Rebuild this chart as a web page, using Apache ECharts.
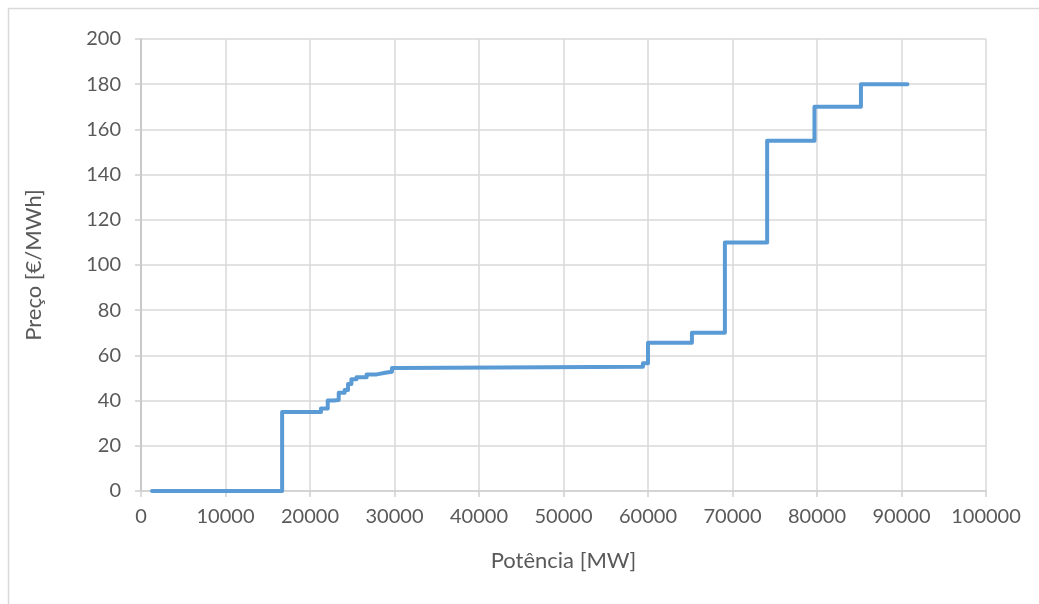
<!DOCTYPE html>
<html>
<head>
<meta charset="utf-8">
<script src="https://cdn.jsdelivr.net/npm/echarts@6/dist/echarts.min.js"></script>
<style>html,body{margin:0;padding:0;background:#fff}#c{width:1039px;height:604px}</style>
</head>
<body>
<div id="c"></div>
<script>
// Step points: power [MW] where each price level starts, and the price [€/MWh]
const power = [1300, 16700, 21300, 22100, 22800, 23400, 24100, 24500, 24900, 25500, 26700, 27900, 28900, 29700, 30600, 59400, 60000, 65200, 69100, 74100, 79700, 85200, 90700];
const price = [0, 35, 36.5, 40, 40.3, 43.5, 44.7, 47.3, 49.4, 50.3, 51.6, 52.3, 52.8, 54.4, 55, 56.5, 65.6, 70, 110, 155, 170, 180, 180];
const xTicks = [0, 10000, 20000, 30000, 40000, 50000, 60000, 70000, 80000, 90000, 100000];
const yTicks = [0, 20, 40, 60, 80, 100, 120, 140, 160, 180, 200];
const xName = 'Potência [MW]';
const yName = 'Preço [€/MWh]';

const font = 'Lato, "Open Sans", sans-serif';
const chart = echarts.init(document.getElementById('c'));
chart.setOption({
  animation: false,
  backgroundColor: '#fff',
  graphic: [{
    type: 'rect', silent: true, z: -1,
    shape: {x: 8.5, y: 8.5, width: 1200, height: 800},
    style: {fill: 'none', stroke: '#d9d9d9', lineWidth: 1.5}
  }],
  grid: {left: 141, right: 53, top: 39, bottom: 113},
  xAxis: {
    type: 'value', min: xTicks[0], max: xTicks[xTicks.length - 1], interval: 10000,
    name: xName, nameLocation: 'middle', nameGap: 59,
    nameTextStyle: {fontFamily: font, fontSize: 22, color: '#595959'},
    axisLine: {show: true, lineStyle: {color: '#d0d0d0', width: 1.5}},
    axisTick: {show: true, length: 6, lineStyle: {color: '#d0d0d0', width: 1.5}},
    axisLabel: {fontFamily: font, fontSize: 20, color: '#595959', margin: 16,
      formatter: v => String(v)},
    splitLine: {show: true, lineStyle: {color: '#d9d9d9', width: 1.5}}
  },
  yAxis: {
    type: 'value', min: yTicks[0], max: yTicks[yTicks.length - 1], interval: 20,
    name: yName, nameLocation: 'middle', nameGap: 96,
    nameTextStyle: {fontFamily: font, fontSize: 22, color: '#595959'},
    axisLine: {show: true, lineStyle: {color: '#c0c0c0', width: 1.5}},
    axisTick: {show: true, length: 6, lineStyle: {color: '#d0d0d0', width: 1.5}},
    axisLabel: {fontFamily: font, fontSize: 20, color: '#595959', margin: 20},
    splitLine: {show: true, lineStyle: {color: '#d9d9d9', width: 1.5}}
  },
  series: [{
    type: 'line', step: 'end', showSymbol: false,
    data: power.map((p, i) => [p, price[i]]),
    lineStyle: {color: '#5b9bd5', width: 4, cap: 'round', join: 'round'}
  }]
});
</script>
</body>
</html>
